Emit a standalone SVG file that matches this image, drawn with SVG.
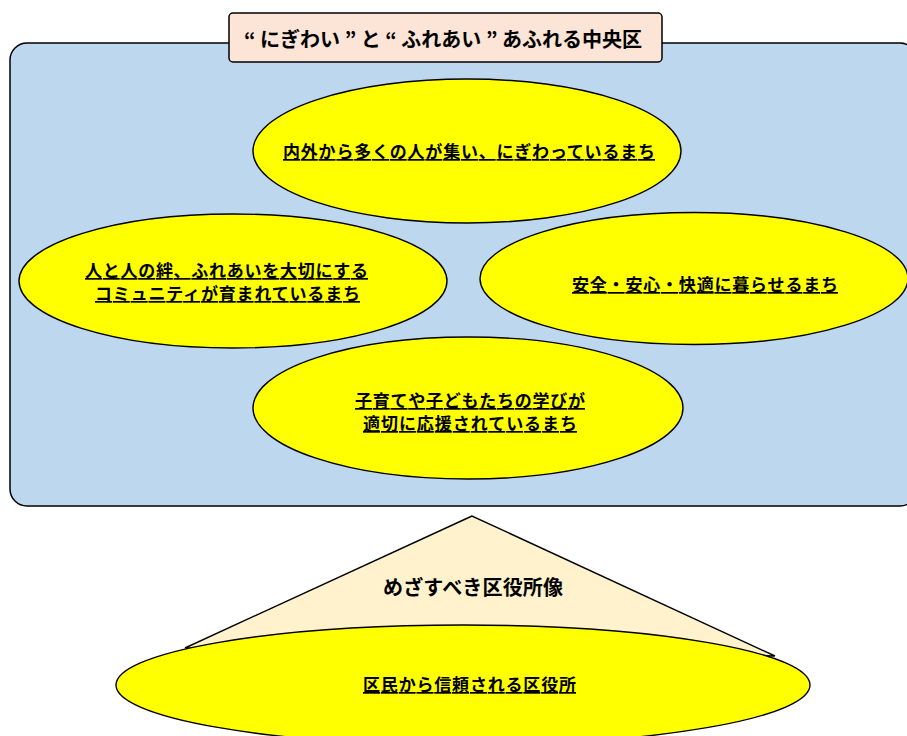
<svg xmlns="http://www.w3.org/2000/svg" width="907" height="736" viewBox="0 0 907 736">
<style>
  .frame { fill: #bdd7ee; stroke: #000; stroke-width: 1.5; }
  .title { fill: #fce4d6; stroke: #000; stroke-width: 1.5; }
  .oval { fill: #ffff00; stroke: #000; stroke-width: 1.4; }
  .tri { fill: #fff2cc; stroke: #000; stroke-width: 1.4; }
  text { font-family: "Noto Sans CJK JP", "Noto Sans", sans-serif; font-weight: 700; fill: #000; }
  .u { font-size: 17px; text-decoration: underline; }
  .big { font-size: 20px; }
</style>
<rect width="907" height="736" fill="#ffffff"/>
<g id="frame">
  <rect class="frame" x="10" y="43" width="907" height="463" rx="17" ry="17"/>
</g>
<g id="title">
  <rect class="title" x="229" y="13" width="433" height="49" rx="4" ry="4"/>
  <text class="big" x="244" y="47" textLength="398" lengthAdjust="spacing">“ にぎわい ” と “ ふれあい ” あふれる中央区</text>
</g>
<g id="node-top">
  <ellipse class="oval" cx="467" cy="151" rx="214" ry="72"/>
  <text class="u" x="283" y="158" textLength="372" lengthAdjust="spacing">内外から多くの人が集い、にぎわっているまち</text>
</g>
<g id="node-left">
  <ellipse class="oval" cx="233" cy="281" rx="214" ry="67"/>
  <text class="u" x="85" y="277" textLength="283" lengthAdjust="spacing">人と人の絆、ふれあいを大切にする</text>
  <text class="u" x="95" y="300" textLength="265" lengthAdjust="spacing">コミュニティが育まれているまち</text>
</g>
<g id="node-right">
  <ellipse class="oval" cx="694" cy="278.5" rx="214" ry="66"/>
  <text class="u" x="572" y="291" textLength="266" lengthAdjust="spacing">安全・安心・快適に暮らせるまち</text>
</g>
<g id="node-bottom">
  <ellipse class="oval" cx="468" cy="408" rx="215" ry="71"/>
  <text class="u" x="355" y="407" textLength="230" lengthAdjust="spacing">子育てや子どもたちの学びが</text>
  <text class="u" x="363" y="430" textLength="214" lengthAdjust="spacing">適切に応援されているまち</text>
</g>
<g id="goal">
  <polygon class="tri" points="472,516 185,648 775,656"/>
  <text class="big" x="383" y="595" textLength="180" lengthAdjust="spacing">めざすべき区役所像</text>
</g>
<g id="node-base">
  <ellipse class="oval" cx="463" cy="685" rx="347" ry="60"/>
  <text class="u" x="363" y="691" textLength="213" lengthAdjust="spacing">区民から信頼される区役所</text>
</g>
</svg>
